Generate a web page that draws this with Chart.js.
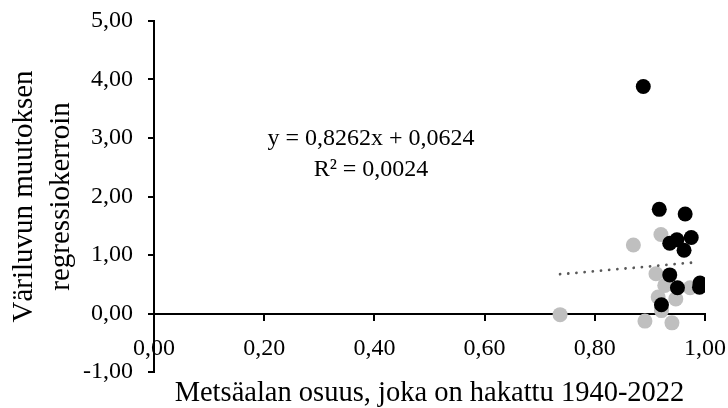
<!DOCTYPE html>
<html>
<head>
<meta charset="utf-8">
<script src="https://cdn.jsdelivr.net/npm/chart.js@4"></script>
<style>
  html, body { margin: 0; padding: 0; background: #ffffff; }
  #wrap { width: 728px; height: 408px; }
</style>
</head>
<body>
<div id="wrap"><canvas id="chart" width="728" height="408"></canvas></div>
<script>
// Black markers
const blackX = [0.888, 0.917, 0.964, 0.975, 0.949, 0.936, 0.962, 0.936, 0.950, 0.991, 0.990, 0.921];
const blackY = [3.88, 1.78, 1.70, 1.30, 1.26, 1.20, 1.08, 0.66, 0.44, 0.52, 0.45, 0.15];

// Grey markers
const greyX = [0.870, 0.920, 0.911, 0.927, 0.973, 0.915, 0.947, 0.921, 0.737, 0.891, 0.940];
const greyY = [1.17, 1.35, 0.68, 0.48, 0.44, 0.28, 0.25, 0.05, -0.02, -0.13, -0.16];

// Linear trend line (stated in the equation label)
const trendSlope = 0.8262;
const trendIntercept = 0.0624;
const trendXRange = [0.737, 0.976];
const equationLines = ['y = 0,8262x + 0,0624', 'R² = 0,0024'];

// Axes
const xTickValues = [0, 0.2, 0.4, 0.6, 0.8, 1.0];
const yTickValues = [-1, 0, 1, 2, 3, 4, 5];
const xTitle = 'Metsäalan osuus, joka on hakattu 1940-2022';
const yTitle = ['Väriluvun muutoksen', 'regressiokerroin'];

const FONT = '"Liberation Serif", "Times New Roman", serif';
const fmt = v => Number(v).toFixed(2).replace('.', ',');
const toPoints = (xs, ys) => xs.map((x, i) => ({ x: x, y: ys[i] }));
const trendPoints = trendXRange.map(x => ({ x: x, y: trendSlope * x + trendIntercept }));

// Let the layout padding alone decide where the plot area sits
const clearScalePadding = s => {
  s.paddingTop = 0; s.paddingBottom = 0; s.paddingLeft = 0; s.paddingRight = 0;
};

const textPlugin = {
  id: 'chartTexts',
  afterDraw(chart) {
    const { ctx, chartArea } = chart;
    ctx.save();
    ctx.fillStyle = '#000000';
    ctx.textAlign = 'center';
    ctx.textBaseline = 'alphabetic';
    ctx.font = '28.5px ' + FONT;
    ctx.fillText(xTitle, (chartArea.left + chartArea.right) / 2, 401);
    ctx.font = '24px ' + FONT;
    ctx.fillText(equationLines[0], 371, 145);
    ctx.fillText(equationLines[1], 371, 176);
    ctx.restore();
  }
};

new Chart(document.getElementById('chart'), {
  type: 'scatter',
  data: {
    datasets: [
      {
        type: 'line',
        label: 'Trend',
        data: trendPoints,
        borderColor: '#595959',
        borderWidth: 2.8,
        borderCapStyle: 'round',
        borderDash: [0.01, 8.2],
        pointRadius: 0,
        fill: false,
        order: 0
      },
      {
        label: 'Black',
        data: toPoints(blackX, blackY),
        backgroundColor: '#000000',
        borderColor: '#000000',
        borderWidth: 0,
        pointRadius: 7.5,
        order: 1
      },
      {
        label: 'Grey',
        data: toPoints(greyX, greyY),
        backgroundColor: '#bfbfbf',
        borderColor: '#bfbfbf',
        borderWidth: 0,
        pointRadius: 7.5,
        order: 2
      }
    ]
  },
  options: {
    responsive: false,
    devicePixelRatio: 1,
    animation: false,
    layout: { padding: { left: 0, top: 21, right: 23, bottom: 36 } },
    plugins: { legend: { display: false }, tooltip: { enabled: false } },
    scales: {
      x: {
        type: 'linear',
        position: { y: 0 },
        min: 0,
        max: 1,
        afterBuildTicks: s => { s.ticks = xTickValues.map(v => ({ value: v })); },
        afterFit: clearScalePadding,
        border: { display: true, color: '#000000', width: 2 },
        grid: { display: true, drawOnChartArea: false, drawTicks: true, tickLength: 6, color: '#000000', lineWidth: 2 },
        ticks: { color: '#000000', font: { family: FONT, size: 24 }, padding: 15, callback: v => fmt(v), maxRotation: 0, autoSkip: false }
      },
      y: {
        type: 'linear',
        position: 'left',
        min: -1,
        max: 5,
        afterBuildTicks: s => { s.ticks = yTickValues.map(v => ({ value: v })); },
        afterFit: s => { s.width = 154; clearScalePadding(s); },
        border: { display: true, color: '#000000', width: 2 },
        grid: { display: true, drawOnChartArea: false, drawTicks: true, tickLength: 6, color: '#000000', lineWidth: 2 },
        ticks: { color: '#000000', font: { family: FONT, size: 24 }, padding: 15, callback: v => fmt(v), autoSkip: false },
        title: {
          display: true,
          text: yTitle,
          color: '#000000',
          font: { family: FONT, size: 29, lineHeight: 1.27 },
          padding: { top: 6, bottom: 0 }
        }
      }
    }
  },
  plugins: [textPlugin]
});
</script>
</body>
</html>
